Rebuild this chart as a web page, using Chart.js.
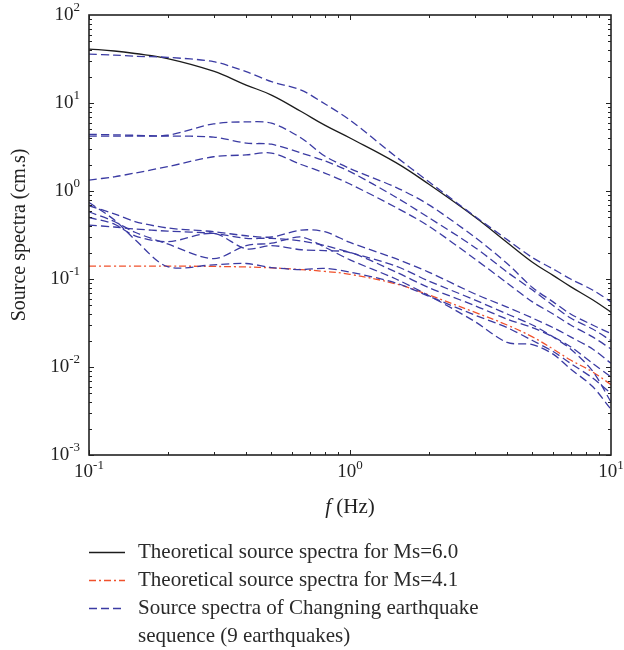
<!DOCTYPE html>
<html>
<head>
<meta charset="utf-8">
<script src="https://cdn.jsdelivr.net/npm/chart.js@4"></script>
<style>
  body { margin: 0; background: #fff; }
  canvas { display: block; }
</style>
</head>
<body>
<canvas id="spectra" width="624" height="650"></canvas>
<script>
// frequencies (Hz) shared by all curves
const freq = [0.1, 0.125, 0.15, 0.2, 0.3, 0.4, 0.5, 0.65, 0.8, 1, 1.5, 2, 3, 4, 5, 6, 7, 8.5, 10];

// theoretical spectra
const theoMs60 = [41, 39, 36.5, 32, 23, 16, 12.3, 8, 5.6, 4.0, 2.1, 1.2, 0.51, 0.26, 0.155, 0.11, 0.082, 0.058, 0.042];
const theoMs41 = [0.14, 0.14, 0.14, 0.14, 0.139, 0.137, 0.134, 0.128, 0.122, 0.113, 0.088, 0.066, 0.042, 0.03, 0.022, 0.016, 0.012, 0.0088, 0.0063];

// observed spectra, 9 earthquakes
const eq1 = [36, 35, 34, 33, 29.5, 22.7, 17.5, 14, 9.8, 6.4, 2.45, 1.28, 0.52, 0.28, 0.175, 0.13, 0.1, 0.075, 0.055];
const eq2 = [4.4, 4.35, 4.3, 4.3, 5.8, 6.1, 5.9, 4.0, 2.5, 1.8, 1.1, 0.7, 0.3, 0.15, 0.08, 0.055, 0.04, 0.03, 0.024];
const eq3 = [4.2, 4.2, 4.2, 4.2, 4.1, 3.5, 3.4, 2.7, 2.2, 1.66, 0.85, 0.5, 0.23, 0.12, 0.075, 0.05, 0.036, 0.027, 0.02];
const eq4 = [1.33, 1.45, 1.6, 1.89, 2.45, 2.57, 2.7, 2.0, 1.6, 1.2, 0.65, 0.4, 0.17, 0.09, 0.055, 0.04, 0.03, 0.022, 0.016];
const eq5 = [0.74, 0.47, 0.28, 0.138, 0.145, 0.15, 0.135, 0.128, 0.132, 0.12, 0.09, 0.064, 0.039, 0.028, 0.02, 0.015, 0.011, 0.0075, 0.005];
const eq6 = [0.58, 0.45, 0.34, 0.25, 0.17, 0.24, 0.255, 0.3, 0.23, 0.165, 0.1, 0.065, 0.033, 0.019, 0.018, 0.014, 0.0095, 0.006, 0.0033];
const eq7 = [0.5, 0.42, 0.31, 0.265, 0.33, 0.22, 0.24, 0.215, 0.21, 0.2, 0.12, 0.08, 0.05, 0.035, 0.028, 0.022, 0.017, 0.011, 0.0077];
const eq8 = [0.68, 0.55, 0.45, 0.38, 0.345, 0.31, 0.3, 0.36, 0.345, 0.26, 0.17, 0.12, 0.068, 0.048, 0.036, 0.028, 0.022, 0.016, 0.011];
const eq9 = [0.41, 0.39, 0.37, 0.35, 0.33, 0.29, 0.29, 0.27, 0.24, 0.2, 0.14, 0.095, 0.058, 0.04, 0.03, 0.022, 0.016, 0.009, 0.004];

const xDecades = [0.1, 1, 10];
const yDecades = [0.001, 0.01, 0.1, 1, 10, 100];

const legendItems = [
  ["Theoretical source spectra for Ms=6.0"],
  ["Theoretical source spectra for Ms=4.1"],
  ["Source spectra of Changning earthquake", "sequence (9 earthquakes)"]
];

const BLUE = "#3b3ba3";
const RED = "#f0512c";
const BLACK = "#1c1c1c";
const SERIF = '"Liberation Serif", "DejaVu Serif", serif';

function pts(arr) {
  return freq.map((f, i) => ({ x: f, y: arr[i] }));
}

const quakes = [eq1, eq2, eq3, eq4, eq5, eq6, eq7, eq8, eq9];
const datasets = quakes.map((q, i) => ({
  label: "eq" + (i + 1),
  data: pts(q),
  borderColor: BLUE,
  borderWidth: 1.3,
  borderDash: [8, 4],
  pointRadius: 0,
  tension: 0.3,
  order: 1
}));
datasets.push({
  label: "Ms=6.0",
  data: pts(theoMs60),
  borderColor: BLACK,
  borderWidth: 1.3,
  pointRadius: 0,
  tension: 0.4,
  order: 2
});
datasets.push({
  label: "Ms=4.1",
  data: pts(theoMs41),
  borderColor: RED,
  borderWidth: 1.3,
  borderDash: [7, 3, 2, 3],
  pointRadius: 0,
  tension: 0.4,
  order: 2
});

function powLabel(v) {
  const e = Math.round(Math.log10(v));
  return { base: "10", exp: String(e) };
}

// axes box, inward ticks, power labels, titles and legend
const decorations = {
  id: "decorations",
  afterDraw(chart) {
    const ctx = chart.ctx;
    const a = chart.chartArea;
    const xs = chart.scales.x, ys = chart.scales.y;
    ctx.save();
    ctx.strokeStyle = "#222";
    ctx.lineWidth = 1.6;
    ctx.setLineDash([]);
    ctx.strokeRect(a.left, a.top, a.right - a.left, a.bottom - a.top);

    ctx.lineWidth = 1;
    ctx.beginPath();
    for (let e = -1; e < 1; e++) {
      for (let m = 1; m <= 9; m++) {
        const v = m * Math.pow(10, e);
        const px = Math.round(xs.getPixelForValue(v)) + 0.5;
        const len = m === 1 ? 5 : 3;
        ctx.moveTo(px, a.bottom); ctx.lineTo(px, a.bottom - len);
        ctx.moveTo(px, a.top); ctx.lineTo(px, a.top + len);
      }
    }
    for (let e = -3; e < 2; e++) {
      for (let m = 1; m <= 9; m++) {
        const v = m * Math.pow(10, e);
        const py = Math.round(ys.getPixelForValue(v)) + 0.5;
        const len = m === 1 ? 5 : 3;
        ctx.moveTo(a.left, py); ctx.lineTo(a.left + len, py);
        ctx.moveTo(a.right, py); ctx.lineTo(a.right - len, py);
      }
    }
    ctx.stroke();

    ctx.fillStyle = "#222";
    ctx.textBaseline = "middle";
    const baseFont = "19px " + SERIF;
    const expFont = "13px " + SERIF;

    xDecades.forEach(v => {
      const l = powLabel(v);
      ctx.font = baseFont;
      const wb = ctx.measureText(l.base).width;
      ctx.font = expFont;
      const we = ctx.measureText(l.exp).width;
      const px = xs.getPixelForValue(v);
      const x0 = px - (wb + we) / 2;
      ctx.textAlign = "left";
      ctx.font = baseFont;
      ctx.fillText(l.base, x0, a.bottom + 17);
      ctx.font = expFont;
      ctx.fillText(l.exp, x0 + wb, a.bottom + 11);
    });

    yDecades.forEach(v => {
      const l = powLabel(v);
      ctx.font = expFont;
      const we = ctx.measureText(l.exp).width;
      const py = ys.getPixelForValue(v);
      const xr = a.left - 9;
      ctx.textAlign = "right";
      ctx.fillText(l.exp, xr, py - 7);
      ctx.font = baseFont;
      ctx.fillText(l.base, xr - we, py);
    });

    // x title: italic f + (Hz)
    ctx.textAlign = "left";
    ctx.font = "italic 21px " + SERIF;
    const wf = ctx.measureText("f").width;
    ctx.font = "21px " + SERIF;
    const wh = ctx.measureText(" (Hz)").width;
    const cx = (a.left + a.right) / 2;
    const tx = cx - (wf + wh) / 2;
    ctx.font = "italic 21px " + SERIF;
    ctx.fillText("f", tx, a.bottom + 52);
    ctx.font = "21px " + SERIF;
    ctx.fillText(" (Hz)", tx + wf, a.bottom + 52);

    // y title
    ctx.save();
    ctx.translate(20, (a.top + a.bottom) / 2);
    ctx.rotate(-Math.PI / 2);
    ctx.textAlign = "center";
    ctx.font = "20px " + SERIF;
    ctx.fillText("Source spectra (cm.s)", 0, 0);
    ctx.restore();

    // legend
    const rowY = [552, 580, 608];
    const styles = [
      { color: BLACK, dash: [] },
      { color: RED, dash: [7, 3, 2, 3] },
      { color: BLUE, dash: [8, 4] }
    ];
    ctx.lineWidth = 1.3;
    legendItems.forEach((lines, i) => {
      const y = rowY[i];
      ctx.strokeStyle = styles[i].color;
      ctx.setLineDash(styles[i].dash);
      ctx.beginPath();
      ctx.moveTo(89, y + 0.5);
      ctx.lineTo(125, y + 0.5);
      ctx.stroke();
      ctx.setLineDash([]);
      ctx.fillStyle = "#2a2a2a";
      ctx.font = "21px " + SERIF;
      ctx.textAlign = "left";
      lines.forEach((t, k) => ctx.fillText(t, 138, y + k * 28));
    });
    ctx.restore();
  }
};

new Chart(document.getElementById("spectra").getContext("2d"), {
  type: "line",
  data: { datasets: datasets },
  options: {
    responsive: false,
    animation: false,
    devicePixelRatio: 1,
    layout: { padding: { top: 15, right: 13, left: 0, bottom: 0 } },
    plugins: { legend: { display: false }, tooltip: { enabled: false } },
    scales: {
      x: {
        type: "logarithmic",
        min: 0.1,
        max: 10,
        grid: { display: false },
        border: { display: false },
        ticks: { display: false },
        afterFit: s => { s.height = 195; }
      },
      y: {
        type: "logarithmic",
        min: 0.001,
        max: 100,
        grid: { display: false },
        border: { display: false },
        ticks: { display: false },
        afterFit: s => { s.width = 89; }
      }
    }
  },
  plugins: [decorations]
});
</script>
</body>
</html>
